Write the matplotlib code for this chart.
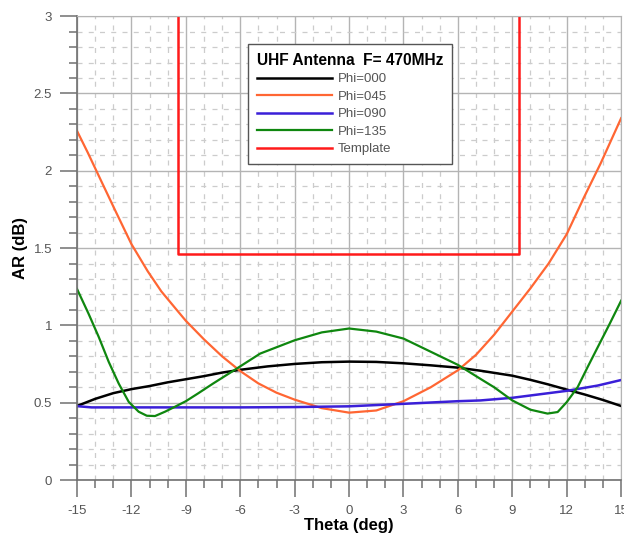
import matplotlib
matplotlib.use('Agg')
import matplotlib.pyplot as plt
from matplotlib.ticker import MultipleLocator

plt.rcParams['font.family'] = ['Liberation Sans', 'DejaVu Sans']
plt.rcParams['axes.unicode_minus'] = False

# values, each curve at its own theta points (deg)
theta000 = [-15, -14, -13, -12, -11, -10, -9, -8, -7, -6, -4.5, -3, -1.5, 0,
            1.5, 3, 4.5, 6, 7.25, 9, 10, 11, 12, 13, 14, 15]
phi000 = [0.479, 0.525, 0.562, 0.588, 0.608, 0.632, 0.652, 0.672, 0.695, 0.713,
          0.735, 0.751, 0.762, 0.766, 0.764, 0.755, 0.742, 0.727, 0.707, 0.675,
          0.648, 0.618, 0.585, 0.553, 0.518, 0.479]

theta045 = [-15, -14.4, -13.65, -12.9, -12, -11.1, -10.35, -9.5, -9, -8, -7,
            -6, -5, -4, -3, -1.5, 0, 1.5, 3, 4.5, 6, 7, 8, 9, 10, 11, 12,
            12.96, 13.88, 15]
phi045 = [2.258, 2.116, 1.93, 1.745, 1.526, 1.35, 1.22, 1.10, 1.03, 0.91, 0.80,
          0.705, 0.625, 0.565, 0.52, 0.465, 0.436, 0.45, 0.51, 0.60, 0.71, 0.81,
          0.94, 1.09, 1.24, 1.40, 1.59, 1.83, 2.05, 2.34]

theta090 = [-15, -14.2, -6, -3, 0, 3, 6, 7.25, 9, 10, 12, 13.7, 15]
phi090 = [0.478, 0.47, 0.47, 0.472, 0.477, 0.493, 0.51, 0.515, 0.532, 0.547,
          0.577, 0.611, 0.647]

theta135 = [-15, -14.36, -13.8, -13.25, -12.7, -12.15, -11.6, -11.15, -10.7,
            -10.15, -9.6, -9, -8.33, -7.5, -6.3, -4.9, -3, -1.5, 0, 1.5, 3, 4.5,
            6, 7.25, 8, 9, 10, 10.94, 11.5, 12, 12.6, 13.15, 13.7, 14.35, 15]
phi135 = [1.236, 1.075, 0.925, 0.764, 0.624, 0.506, 0.442, 0.416, 0.414, 0.442,
          0.474, 0.51, 0.56, 0.624, 0.713, 0.818, 0.904, 0.955, 0.98, 0.96, 0.915,
          0.83, 0.745, 0.654, 0.60, 0.515, 0.455, 0.43, 0.44, 0.504, 0.60, 0.73,
          0.857, 1.006, 1.16]

tmpl_x = [-9.43, -9.43, 9.35, 9.35]
tmpl_y = [3.0, 1.462, 1.462, 3.0]

fig = plt.figure(figsize=(6.24, 5.37), dpi=100)
ax = fig.add_axes([0.1234, 0.106, 0.872, 0.864])

ax.plot(theta000, phi000, color='black', lw=1.8, label='Phi=000')
ax.plot(theta045, phi045, color='#ff6633', lw=1.6, label='Phi=045')
ax.plot(theta090, phi090, color='#3a1fd8', lw=1.8, label='Phi=090')
ax.plot(theta135, phi135, color='#0f870f', lw=1.6, label='Phi=135')
ax.plot(tmpl_x, tmpl_y, color='#ff1a1a', lw=1.8, label='Template')

ax.set_xlim(-15, 15)
ax.set_ylim(0, 3)
ax.xaxis.set_major_locator(MultipleLocator(3))
ax.xaxis.set_minor_locator(MultipleLocator(1))
ax.yaxis.set_major_locator(MultipleLocator(0.5))
ax.yaxis.set_minor_locator(MultipleLocator(0.1))
ax.yaxis.set_major_formatter(plt.FuncFormatter(lambda v, p: '%g' % v))

ax.grid(True, which='major', color='#b4b4b4', lw=1.0)
ax.grid(True, which='minor', color='#cccccc', lw=0.9, linestyle=(0, (4, 5)))
ax.set_axisbelow(True)

for s in ['top', 'right']:
    ax.spines[s].set_color('#b4b4b4')
for s in ['left', 'bottom']:
    ax.spines[s].set_color('#707070')
    ax.spines[s].set_linewidth(1.2)

ax.tick_params(which='major', direction='out', length=12, width=1.1,
               color='#707070', labelcolor='#555555', labelsize=9.5, pad=6)
ax.tick_params(which='minor', direction='out', length=6, width=1.1, color='#707070')

ax.set_xlabel('Theta (deg)', fontsize=12, fontweight='bold', labelpad=1)
ax.set_ylabel('AR (dB)', fontsize=12, fontweight='bold', labelpad=4)

leg = ax.legend(loc='upper left', bbox_to_anchor=(0.3143, 0.9397),
                title='UHF Antenna  F= 470MHz', fontsize=9.5,
                handlelength=5.7, handletextpad=0.45, labelspacing=0.4,
                borderpad=0.65, borderaxespad=0, fancybox=False, framealpha=1,
                edgecolor='#555555', alignment='left')
leg.get_title().set_fontweight('bold')
leg.get_title().set_fontsize(11.2)
leg.get_frame().set_linewidth(1.0)
for t in leg.get_texts():
    t.set_color('#555555')

fig.savefig('out.png', dpi=100)
